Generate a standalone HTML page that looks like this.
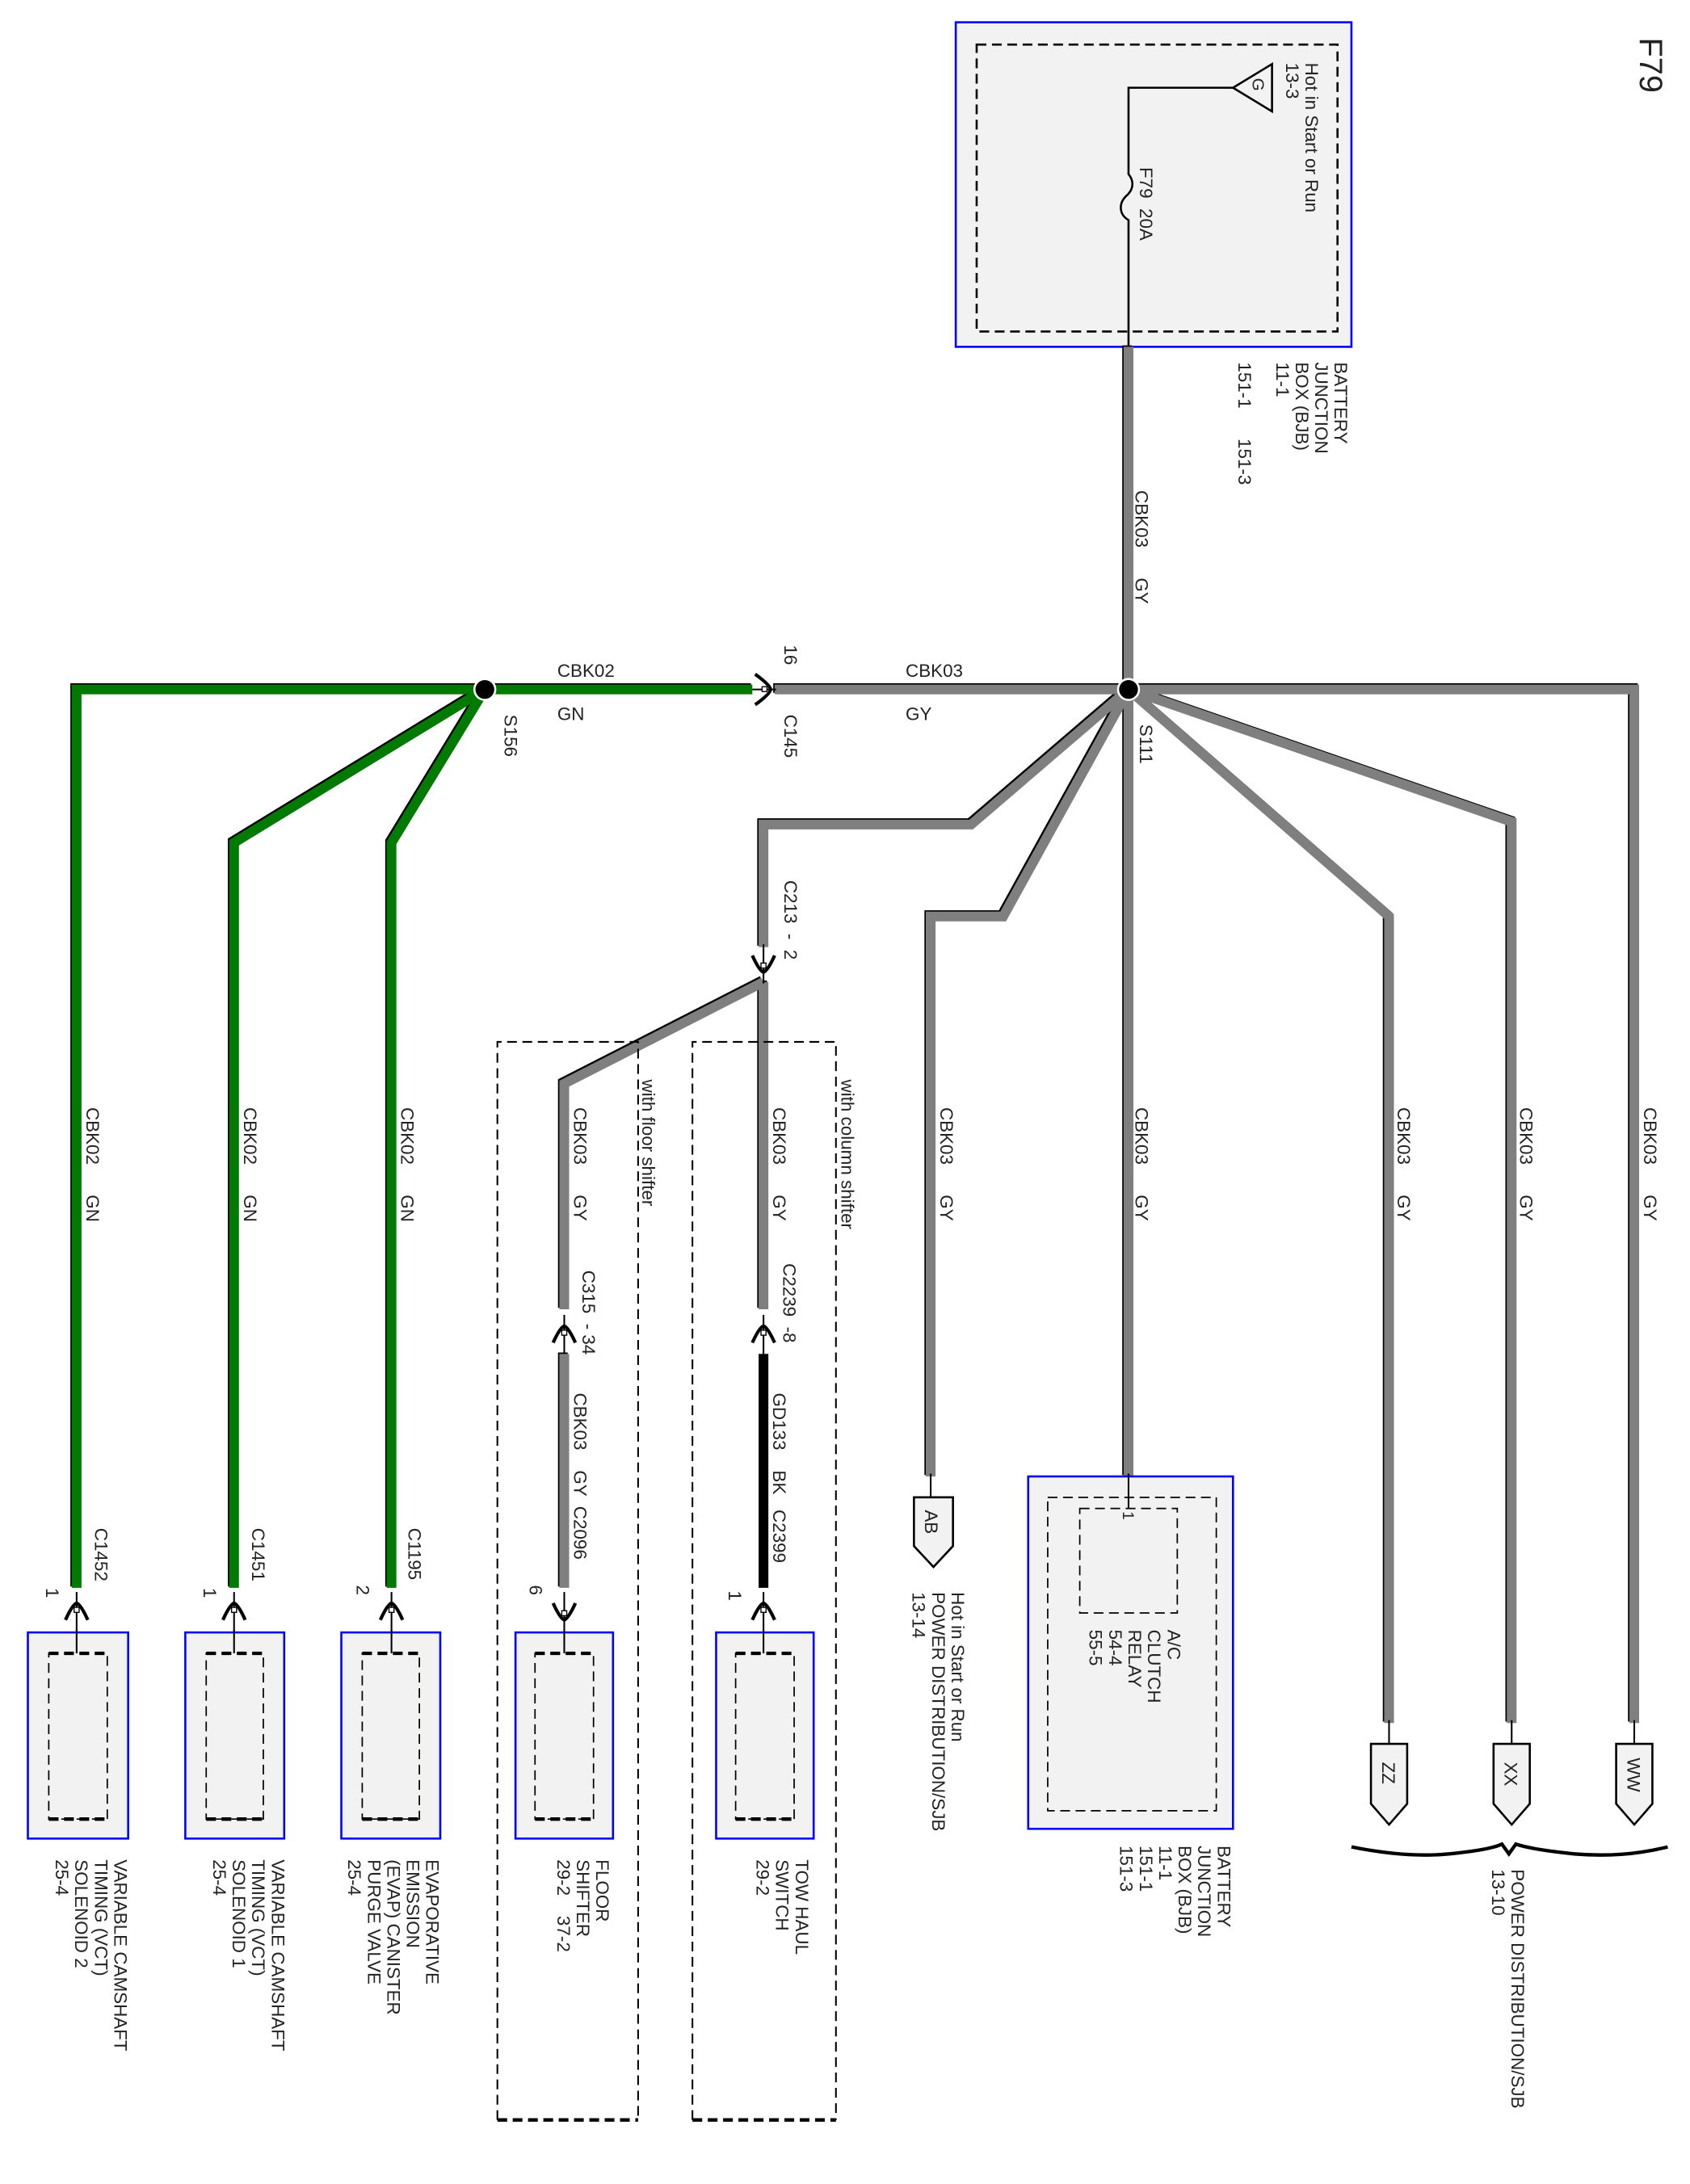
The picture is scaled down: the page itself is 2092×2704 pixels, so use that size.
<!DOCTYPE html>
<html><head><meta charset="utf-8"><style>
html,body{margin:0;padding:0;background:#fff;}
svg{display:block;}
text{font-family:"Liberation Sans",sans-serif;font-size:13px;fill:#222;white-space:pre;}
.w{fill:none;stroke-linejoin:miter;}
</style></head><body>
<svg width="2092" height="2704" viewBox="0 0 1213 1568" preserveAspectRatio="none" xmlns="http://www.w3.org/2000/svg" xml:space="preserve">
<defs>
<g id="cup"><line x1="0" y1="-14" x2="0" y2="14" stroke="#000" stroke-width="1.2"/><path d="M-8,6 Q-3,-5 0,-6 Q3,-5 8,6" fill="none" stroke="#000" stroke-width="2.4"/><rect x="-1.8" y="-3" width="3.6" height="3.6" fill="#fff" stroke="#000" stroke-width="0.8"/></g>
</defs>
<rect width="1213" height="1568" fill="#fff"/>

<text transform="translate(1177,27) rotate(90)" style="font-size:23px">F79</text>

<rect x="686" y="16" width="284" height="233" fill="#f2f2f2" stroke="#0000ff" stroke-width="1.5"/>
<rect x="701" y="32" width="259" height="206" fill="none" stroke="#000" stroke-width="1.5" stroke-dasharray="7,4"/>
<path d="M810,249 L810,158 C803,154 803,146 808,141 C814,136 814,130 810,125 L810,63 L885,63" fill="none" stroke="#000" stroke-width="1.5"/>
<polygon points="885,63 913,46 913,80" fill="#f2f2f2" stroke="#000" stroke-width="1.5"/>
<text transform="translate(899,56) rotate(90)" style="font-size:12px">G</text>
<text transform="translate(937,45) rotate(90)">Hot in Start or Run</text>
<text transform="translate(923,45) rotate(90)">13-3</text>
<text transform="translate(818,120) rotate(90)">F79  20A</text>
<text transform="translate(958,260) rotate(90)">BATTERY</text>
<text transform="translate(944,260) rotate(90)">JUNCTION</text>
<text transform="translate(930,260) rotate(90)">BOX (BJB)</text>
<text transform="translate(916,260) rotate(90)">11-1</text>
<text transform="translate(889,260) rotate(90)">151-1      151-3</text>

<g class="w" stroke="#000" stroke-width="7" transform="translate(-1,-1)">
<path d="M810,249 L810,495"/>
<path d="M556,495 L1173,495 L1173,1237"/>
<path d="M810,495 L1085,590 L1085,1237"/>
<path d="M810,495 L997,658 L997,1237"/>
<path d="M810,495 L810,1060"/>
<path d="M810,495 L720,658 L668,658 L668,1060"/>
<path d="M810,495 L697,592 L548,592 L548,680"/>
<path d="M548,705 L548,940"/>
<path d="M548,705 L405,778 L405,940"/>
<path d="M405,972 L405,1140"/>
</g>
<g class="w" stroke="#7f7f7f" stroke-width="7">
<path d="M810,249 L810,495"/>
<path d="M556,495 L1173,495 L1173,1237"/>
<path d="M810,495 L1085,590 L1085,1237"/>
<path d="M810,495 L997,658 L997,1237"/>
<path d="M810,495 L810,1060"/>
<path d="M810,495 L720,658 L668,658 L668,1060"/>
<path d="M810,495 L697,592 L548,592 L548,680"/>
<path d="M548,705 L548,940"/>
<path d="M548,705 L405,778 L405,940"/>
<path d="M405,972 L405,1140"/>
</g>
<path d="M548,972 L548,1140" stroke="#000" stroke-width="7"/>

<g class="w" stroke="#000" stroke-width="7" transform="translate(-1,-1)">
<path d="M540,495 L55,495 L55,1140"/>
<path d="M348,495 L168,605 L168,1140"/>
<path d="M348,495 L281,605 L281,1140"/>
</g>
<g class="w" stroke="#007a00" stroke-width="7">
<path d="M540,495 L55,495 L55,1140"/>
<path d="M348,495 L168,605 L168,1140"/>
<path d="M348,495 L281,605 L281,1140"/>
</g>

<circle cx="348" cy="495" r="7.5" fill="#000" stroke="#fff" stroke-width="1.5"/>
<circle cx="810" cy="495" r="7.5" fill="#000" stroke="#fff" stroke-width="1.5"/>

<line x1="540" y1="495" x2="557" y2="495" stroke="#000" stroke-width="1.2"/>
<path d="M542,484 Q553,492 553,495 Q553,498 542,506" fill="none" stroke="#000" stroke-width="2.4"/>
<rect x="547" y="493" width="3.5" height="3.5" fill="#fff" stroke="#000" stroke-width="0.8"/>
<text x="400" y="486">CBK02</text>
<text x="400" y="517">GN</text>
<text x="650" y="486">CBK03</text>
<text x="650" y="517">GY</text>
<text transform="translate(563,463) rotate(90)">16</text>
<text transform="translate(563,513) rotate(90)">C145</text>
<text transform="translate(362,513) rotate(90)">S156</text>
<text transform="translate(818,520) rotate(90)">S111</text>

<use href="#cup" transform="translate(548,692) scale(1,-1)"/>
<text transform="translate(563,632) rotate(90)">C213  -  2</text>

<path d="M357,1522 L357,748 L458,748 L458,1522" fill="none" stroke="#000" stroke-width="1.2" stroke-dasharray="7,4"/>
<line x1="357" y1="1522" x2="458" y2="1522" stroke="#000" stroke-width="2.5" stroke-dasharray="7,4"/>
<path d="M497,1522 L497,748 L600,748 L600,1522" fill="none" stroke="#000" stroke-width="1.2" stroke-dasharray="7,4"/>
<line x1="497" y1="1522" x2="600" y2="1522" stroke="#000" stroke-width="2.5" stroke-dasharray="7,4"/>
<text transform="translate(461,775) rotate(90)">with floor shifter</text>
<text transform="translate(604,775) rotate(90)">with column shifter</text>

<use href="#cup" transform="translate(405,958)"/>
<use href="#cup" transform="translate(548,958)"/>
<text transform="translate(418,912) rotate(90)">C315  - 34</text>
<text transform="translate(562,907) rotate(90)">C2239  -8</text>
<text transform="translate(412,1000) rotate(90)">CBK03    GY  C2096</text>
<text transform="translate(555,1000) rotate(90)">GD133    BK   C2399</text>

<text transform="translate(62,795) rotate(90)">CBK02      GN</text>
<text transform="translate(175,795) rotate(90)">CBK02      GN</text>
<text transform="translate(288,795) rotate(90)">CBK02      GN</text>
<text transform="translate(412,795) rotate(90)">CBK03      GY</text>
<text transform="translate(555,795) rotate(90)">CBK03      GY</text>
<text transform="translate(675,795) rotate(90)">CBK03      GY</text>
<text transform="translate(815,795) rotate(90)">CBK03      GY</text>
<text transform="translate(1003,795) rotate(90)">CBK03      GY</text>
<text transform="translate(1091,795) rotate(90)">CBK03      GY</text>
<text transform="translate(1180,795) rotate(90)">CBK03      GY</text>
<text transform="translate(815,352) rotate(90)">CBK03      GY</text>

<use href="#cup" transform="translate(55,1157)"/>
<use href="#cup" transform="translate(168,1157)"/>
<use href="#cup" transform="translate(281,1157)"/>
<use href="#cup" transform="translate(405,1157) scale(1,-1)"/>
<use href="#cup" transform="translate(548,1157)"/>
<text transform="translate(68,1097) rotate(90)">C1452</text>
<text transform="translate(181,1097) rotate(90)">C1451</text>
<text transform="translate(293,1097) rotate(90)">C1195</text>
<text transform="translate(33,1140) rotate(90)">1</text>
<text transform="translate(146,1140) rotate(90)">1</text>
<text transform="translate(256,1138) rotate(90)">2</text>
<text transform="translate(380,1138) rotate(90)">6</text>
<text transform="translate(523,1142) rotate(90)">1</text>

<g fill="#f2f2f2" stroke="#0000ff" stroke-width="1.5">
<rect x="20" y="1172" width="72" height="148"/>
<rect x="133" y="1172" width="71" height="148"/>
<rect x="245" y="1172" width="71" height="148"/>
<rect x="370" y="1172" width="70" height="148"/>
<rect x="514" y="1172" width="70" height="148"/>
</g>
<g fill="none" stroke="#000" stroke-width="1" stroke-dasharray="7,4">
<rect x="35" y="1187" width="42" height="119"/>
<rect x="148" y="1187" width="41" height="119"/>
<rect x="260" y="1187" width="41" height="119"/>
<rect x="384" y="1187" width="42" height="119"/>
<rect x="528" y="1187" width="42" height="119"/>
</g>
<g stroke="#000" stroke-width="2.5" stroke-dasharray="7,4">
<line x1="35" y1="1187" x2="77" y2="1187"/><line x1="35" y1="1306" x2="77" y2="1306"/>
<line x1="148" y1="1187" x2="189" y2="1187"/><line x1="148" y1="1306" x2="189" y2="1306"/>
<line x1="260" y1="1187" x2="301" y2="1187"/><line x1="260" y1="1306" x2="301" y2="1306"/>
<line x1="384" y1="1187" x2="426" y2="1187"/><line x1="384" y1="1306" x2="426" y2="1306"/>
<line x1="528" y1="1187" x2="570" y2="1187"/><line x1="528" y1="1306" x2="570" y2="1306"/>
</g>
<g stroke="#000" stroke-width="1.2">
<line x1="55" y1="1170" x2="55" y2="1187"/>
<line x1="168" y1="1170" x2="168" y2="1187"/>
<line x1="281" y1="1170" x2="281" y2="1187"/>
<line x1="405" y1="1170" x2="405" y2="1187"/>
<line x1="548" y1="1170" x2="548" y2="1187"/>
</g>

<text transform="translate(82,1335) rotate(90)">VARIABLE CAMSHAFT</text>
<text transform="translate(68,1335) rotate(90)">TIMING (VCT)</text>
<text transform="translate(54,1335) rotate(90)">SOLENOID 2</text>
<text transform="translate(40,1335) rotate(90)">25-4</text>
<text transform="translate(195,1335) rotate(90)">VARIABLE CAMSHAFT</text>
<text transform="translate(181,1335) rotate(90)">TIMING (VCT)</text>
<text transform="translate(167,1335) rotate(90)">SOLENOID 1</text>
<text transform="translate(153,1335) rotate(90)">25-4</text>
<text transform="translate(306,1335) rotate(90)">EVAPORATIVE</text>
<text transform="translate(292,1335) rotate(90)">EMISSION</text>
<text transform="translate(278,1335) rotate(90)">(EVAP) CANISTER</text>
<text transform="translate(264,1335) rotate(90)">PURGE VALVE</text>
<text transform="translate(250,1335) rotate(90)">25-4</text>
<text transform="translate(428,1335) rotate(90)">FLOOR</text>
<text transform="translate(414,1335) rotate(90)">SHIFTER</text>
<text transform="translate(400,1335) rotate(90)">29-2    37-2</text>
<text transform="translate(571,1335) rotate(90)">TOW HAUL</text>
<text transform="translate(557,1335) rotate(90)">SWITCH</text>
<text transform="translate(543,1335) rotate(90)">29-2</text>

<line x1="668" y1="1058" x2="668" y2="1075" stroke="#000" stroke-width="1.2"/>
<polygon points="656,1075 684,1075 684,1110 670,1125 656,1110" fill="#f2f2f2" stroke="#000" stroke-width="1.5"/>
<text transform="translate(664,1084) rotate(90)">AB</text>
<text transform="translate(683,1143) rotate(90)">Hot in Start or Run</text>
<text transform="translate(669,1143) rotate(90)">POWER DISTRIBUTION/SJB</text>
<text transform="translate(655,1143) rotate(90)">13-14</text>

<rect x="738" y="1060" width="147" height="253" fill="#f2f2f2" stroke="#0000ff" stroke-width="1.5"/>
<rect x="752" y="1075" width="121" height="225" fill="none" stroke="#000" stroke-width="1" stroke-dasharray="7,4"/>
<rect x="775" y="1083" width="70" height="75" fill="none" stroke="#000" stroke-width="1" stroke-dasharray="7,4"/>
<line x1="810" y1="1058" x2="810" y2="1083" stroke="#000" stroke-width="1.2"/>
<text transform="translate(806,1085) rotate(90)" style="font-size:11px">1</text>
<text transform="translate(838,1170) rotate(90)">A/C</text>
<text transform="translate(824,1170) rotate(90)">CLUTCH</text>
<text transform="translate(810,1170) rotate(90)">RELAY</text>
<text transform="translate(796,1170) rotate(90)">54-4</text>
<text transform="translate(782,1170) rotate(90)">55-5</text>
<text transform="translate(874,1325) rotate(90)">BATTERY</text>
<text transform="translate(860,1325) rotate(90)">JUNCTION</text>
<text transform="translate(846,1325) rotate(90)">BOX (BJB)</text>
<text transform="translate(832,1325) rotate(90)">11-1</text>
<text transform="translate(818,1325) rotate(90)">151-1</text>
<text transform="translate(804,1325) rotate(90)">151-3</text>

<g stroke="#000" stroke-width="1.2">
<line x1="997" y1="1235" x2="997" y2="1252"/>
<line x1="1085" y1="1235" x2="1085" y2="1252"/>
<line x1="1173" y1="1235" x2="1173" y2="1252"/>
</g>
<g fill="#f2f2f2" stroke="#000" stroke-width="1.5">
<polygon points="984,1252 1010,1252 1010,1295 997,1310 984,1295"/>
<polygon points="1072,1252 1098,1252 1098,1295 1085,1310 1072,1295"/>
<polygon points="1160,1252 1186,1252 1186,1295 1173,1310 1160,1295"/>
</g>
<text transform="translate(992,1265) rotate(90)">ZZ</text>
<text transform="translate(1080,1265) rotate(90)">XX</text>
<text transform="translate(1168,1262) rotate(90)">WW</text>
<path d="M970,1326 Q1010,1334 1040,1331 Q1070,1328 1078,1324 L1083,1331 L1088,1324 Q1100,1328 1130,1331 Q1165,1334 1197,1326" fill="none" stroke="#000" stroke-width="2.5"/>
<text transform="translate(1085,1342) rotate(90)">POWER DISTRIBUTION/SJB</text>
<text transform="translate(1071,1342) rotate(90)">13-10</text>
</svg>
</body></html>
